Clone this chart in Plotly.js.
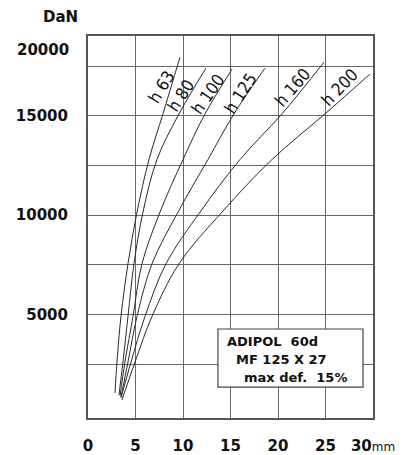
<!DOCTYPE html>
<html>
<head>
<meta charset="utf-8">
<script src="https://cdn.plot.ly/plotly-3.0.1.min.js"></script>
<style>html,body{margin:0;padding:0;background:#fff;}#chart{width:410px;height:455px;}</style>
</head>
<body>
<div id="chart"></div>
<script>
// ---- data (deflection in mm, load in DaN) ----
const seriesNames = ['h 63', 'h 80', 'h 100', 'h 125', 'h 160', 'h 200'];
const loadLevels = [2600, 4900, 7550, 10150, 12800, 15100];
const h63x  = [2.84, 3.05, 3.47, 4.21, 5.16, 6.42, 7.89, 9.68];
const h63y  = [1040, 2600, 4900, 7550, 10150, 12800, 15100, 17950];
const h80x  = [3.26, 3.68, 4.21, 4.84, 5.79, 7.26, 9.58, 12.42];
const h80y  = [940, 2600, 4900, 7550, 10150, 12800, 15100, 17400];
const h100x = [3.37, 3.89, 4.74, 5.68, 7.58, 10.0, 12.32, 15.16];
const h100y = [890, 2600, 4900, 7550, 10150, 12800, 15100, 17350];
const h125x = [3.47, 4.21, 5.16, 6.74, 9.47, 12.63, 15.37, 18.63];
const h125y = [840, 2600, 4900, 7550, 10150, 12800, 15100, 17400];
const h160x = [3.47, 4.53, 6.0, 8.21, 11.79, 16.0, 20.42, 24.84];
const h160y = [790, 2600, 4900, 7550, 10150, 12800, 15100, 17700];
const h200x = [3.58, 4.95, 6.74, 9.58, 14.1, 19.37, 24.95, 29.68];
const h200y = [690, 2600, 4900, 7550, 10150, 12800, 15100, 17100];

const xTickVals = [0, 5, 10, 15, 20, 25, 30];
const xTickText = ['0', '5', '10', '15', '20', '25', '30<span style="font-size:12px;font-weight:normal">mm</span>'];
const yTickVals = [2500, 5000, 7500, 10000, 12500, 15000, 17500];
const yTickText = ['', '5000', '', '10000', '', '15000', ''];
const yTopLabel = '20000';
const yUnit = 'DaN';
const boxLines = ['ADIPOL\u00A0\u00A060d', 'MF 125 X 27', 'max def.\u00A0\u00A015%'];

const xs = [h63x, h80x, h100x, h125x, h160x, h200x];
const ys = [h63y, h80y, h100y, h125y, h160y, h200y];

const traces = seriesNames.map((n, i) => ({
  type: 'scatter', mode: 'lines', name: n, x: xs[i], y: ys[i],
  line: {color: '#2a2a2a', width: 1, shape: 'spline', smoothing: 1},
  hoverinfo: 'skip'
}));

// label placement (style/position only)
const labelPos = [
  {x: 7.74, y: 16430, a: -59},
  {x: 9.74, y: 16000, a: -57},
  {x: 12.63, y: 16100, a: -55},
  {x: 16.1, y: 16125, a: -57},
  {x: 21.58, y: 16430, a: -49},
  {x: 26.53, y: 16430, a: -46}
];
const annotations = seriesNames.map((n, i) => ({
  text: n, x: labelPos[i].x, y: labelPos[i].y, xref: 'x', yref: 'y',
  textangle: labelPos[i].a, showarrow: false, xanchor: 'center', yanchor: 'middle',
  font: {family: 'DejaVu Sans Condensed, DejaVu Sans', size: 17, color: '#111'}
}));
const boxX = [0.481, 0.512, 0.540];
const boxY = [0.199, 0.154, 0.107];
boxLines.forEach((t, i) => annotations.push({
  text: t, x: boxX[i], y: boxY[i], xref: 'paper', yref: 'paper',
  xanchor: 'left', yanchor: 'middle', showarrow: false,
  font: {family: 'DejaVu Sans', size: 13, color: '#111', weight: 'bold'}
}));
annotations.push({
  text: yTopLabel, x: -0.0596, y: 0.963, xref: 'paper', yref: 'paper',
  xanchor: 'right', yanchor: 'middle', showarrow: false,
  font: {family: 'DejaVu Sans', size: 15, color: '#111', weight: 'bold'}
});
annotations.push({
  text: yUnit, x: -0.098, y: 1.05, xref: 'paper', yref: 'paper',
  xanchor: 'center', yanchor: 'middle', showarrow: false,
  font: {family: 'DejaVu Sans', size: 15, color: '#111', weight: 'bold'}
});

const layout = {
  width: 410, height: 455,
  margin: {l: 88, r: 37, t: 36, b: 37},
  paper_bgcolor: '#fff', plot_bgcolor: '#fff',
  showlegend: false,
  xaxis: {
    range: [0, 30], tickvals: xTickVals, ticktext: xTickText,
    showgrid: true, gridcolor: '#666', gridwidth: 1, zeroline: false,
    showline: true, mirror: true, linecolor: '#555', linewidth: 2,
    ticks: '', ticklabelstandoff: 13,
    tickfont: {family: 'DejaVu Sans', size: 15, color: '#111', weight: 'bold'}
  },
  yaxis: {
    range: [-220, 19020], tickvals: yTickVals, ticktext: yTickText,
    showgrid: true, gridcolor: '#666', gridwidth: 1, zeroline: false,
    showline: true, mirror: true, linecolor: '#555', linewidth: 2,
    ticks: '', ticklabelstandoff: 15,
    tickfont: {family: 'DejaVu Sans', size: 15, color: '#111', weight: 'bold'}
  },
  shapes: [{
    type: 'rect', xref: 'paper', yref: 'paper',
    x0: 0.456, x1: 0.965, y0: 0.081, y1: 0.233,
    fillcolor: '#fff', line: {color: '#444', width: 1.2}, layer: 'above'
  }],
  annotations: annotations
};

Plotly.newPlot('chart', traces, layout, {displayModeBar: false, staticPlot: true});
</script>
</body>
</html>
